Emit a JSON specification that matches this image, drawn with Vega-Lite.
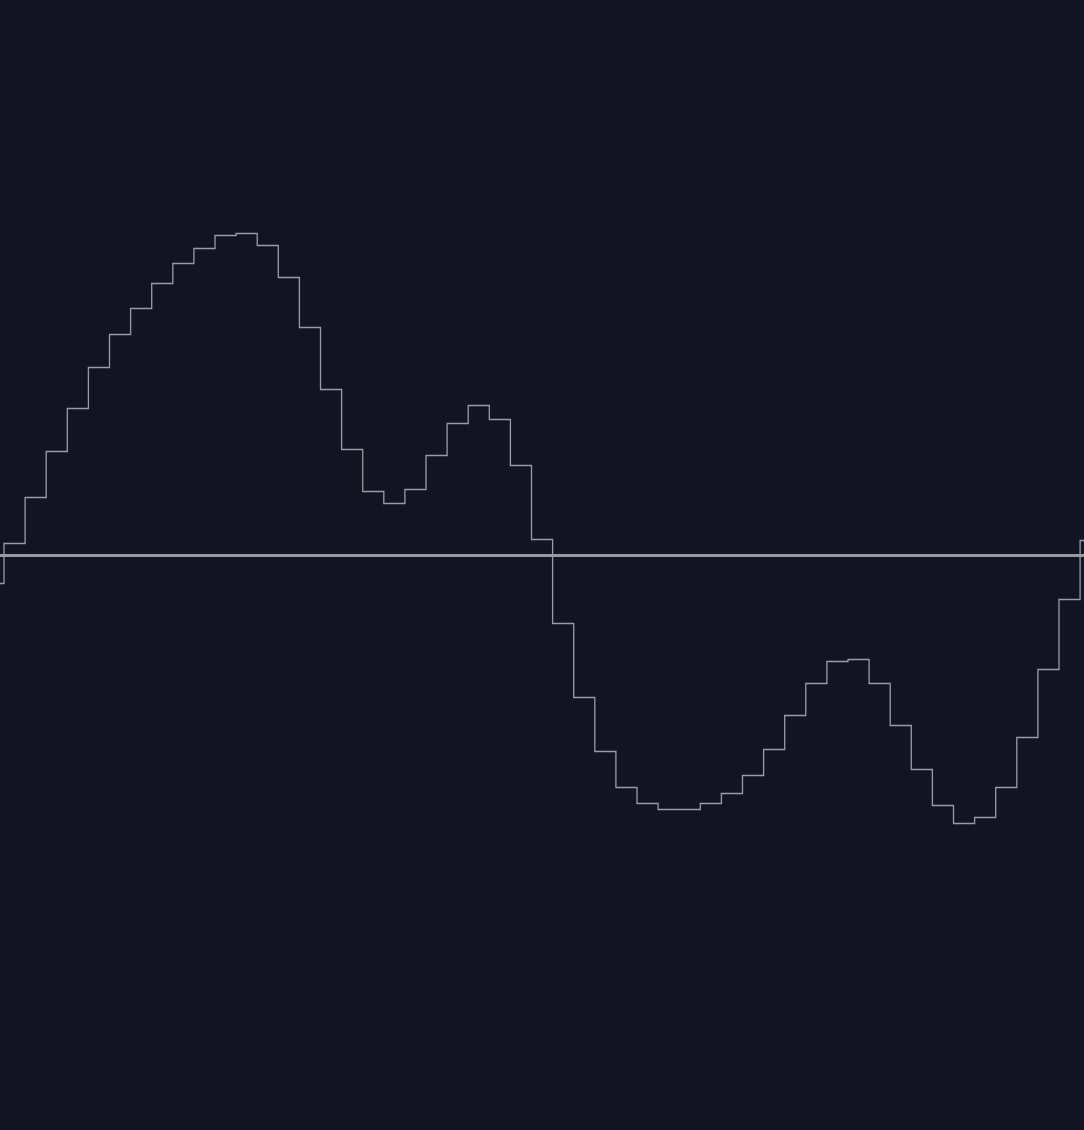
{
  "$schema": "https://vega.github.io/schema/vega-lite/v6.json",
  "width": 1084,
  "height": 1130,
  "padding": 0,
  "autosize": {"type": "none"},
  "background": "#131322",
  "config": {"view": {"stroke": null}},
  "data": {
    "values": [
      {"t": 0, "v": -0.28}, {"t": 1, "v": 0.12}, {"t": 2, "v": 0.58}, {"t": 3, "v": 1.04},
      {"t": 4, "v": 1.47}, {"t": 5, "v": 1.88}, {"t": 6, "v": 2.21}, {"t": 7, "v": 2.47},
      {"t": 8, "v": 2.72}, {"t": 9, "v": 2.92}, {"t": 10, "v": 3.07}, {"t": 11, "v": 3.2},
      {"t": 12, "v": 3.22}, {"t": 13, "v": 3.1}, {"t": 14, "v": 2.78}, {"t": 15, "v": 2.28},
      {"t": 16, "v": 1.66}, {"t": 17, "v": 1.06}, {"t": 18, "v": 0.64}, {"t": 19, "v": 0.52},
      {"t": 20, "v": 0.66}, {"t": 21, "v": 1.0}, {"t": 22, "v": 1.32}, {"t": 23, "v": 1.5},
      {"t": 24, "v": 1.36}, {"t": 25, "v": 0.9}, {"t": 26, "v": 0.16}, {"t": 27, "v": -0.68},
      {"t": 28, "v": -1.42}, {"t": 29, "v": -1.96}, {"t": 30, "v": -2.32}, {"t": 31, "v": -2.48},
      {"t": 32, "v": -2.54}, {"t": 33, "v": -2.54}, {"t": 34, "v": -2.48}, {"t": 35, "v": -2.38},
      {"t": 36, "v": -2.2}, {"t": 37, "v": -1.94}, {"t": 38, "v": -1.6}, {"t": 39, "v": -1.28},
      {"t": 40, "v": -1.06}, {"t": 41, "v": -1.04}, {"t": 42, "v": -1.28}, {"t": 43, "v": -1.7},
      {"t": 44, "v": -2.14}, {"t": 45, "v": -2.5}, {"t": 46, "v": -2.68}, {"t": 47, "v": -2.62},
      {"t": 48, "v": -2.32}, {"t": 49, "v": -1.82}, {"t": 50, "v": -1.14}, {"t": 51, "v": -0.44},
      {"t": 52, "v": 0.15}, {"t": 53, "v": 0.15}
    ]
  },
  "layer": [
    {
      "mark": {"type": "rule", "color": "#9a9aa8", "strokeWidth": 1.4},
      "encoding": {
        "y": {"datum": 0, "type": "quantitative", "scale": {"domain": [-5.745, 5.555]}, "axis": null}
      }
    },
    {
      "mark": {"type": "line", "interpolate": "step-after", "color": "#9a9aa8", "strokeWidth": 1.3, "clip": true},
      "encoding": {
        "x": {"field": "t", "type": "quantitative", "scale": {"domain": [0.81, 52.185], "nice": false, "zero": false}, "axis": null},
        "y": {"field": "v", "type": "quantitative", "scale": {"domain": [-5.745, 5.555], "nice": false, "zero": false}, "axis": null}
      }
    }
  ]
}
